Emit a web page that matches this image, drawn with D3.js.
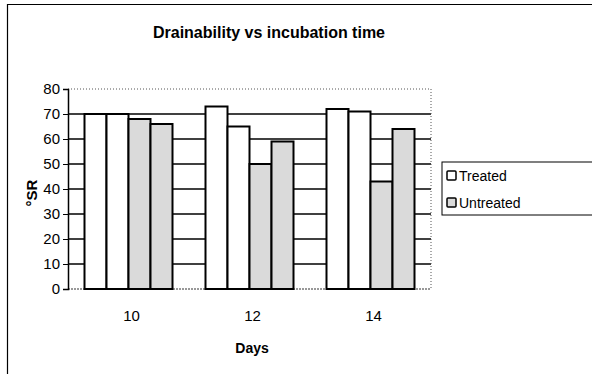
<!DOCTYPE html>
<html><head><meta charset="utf-8">
<script src="https://cdn.jsdelivr.net/npm/d3@7"></script>
<style>body{margin:0;background:#fff}svg{display:block;font-family:"Liberation Sans",Arial,sans-serif}</style>
</head><body><svg id="c" width="592" height="374"></svg>
<script>
const categories = ["10", "12", "14"];
const seriesNames = ["Treated A", "Treated B", "Untreated A", "Untreated B"];
const treatedA = [70, 73, 72];
const treatedB = [70, 65, 71];
const untreatedA = [68, 50, 43];
const untreatedB = [66, 59, 64];
const yTicks = [0, 10, 20, 30, 40, 50, 60, 70, 80];
const legendLabels = ["Treated", "Untreated"];

const series = [treatedA, treatedB, untreatedA, untreatedB];
const fills = ["#ffffff", "#ffffff", "#dadada", "#dadada"];

const svg = d3.select("#c");
const m = {l: 68, r: 431, t: 89, b: 289};

// frame
svg.append("line").attr("x1",7).attr("x2",592).attr("y1",4.5).attr("y2",4.5).attr("stroke","#000").attr("stroke-width",1);
svg.append("line").attr("x1",7.5).attr("x2",7.5).attr("y1",4).attr("y2",374).attr("stroke","#000").attr("stroke-width",1.2);

const x0 = d3.scaleBand().domain(categories).range([m.l, m.r]).paddingInner(0).paddingOuter(0);
const x1 = d3.scaleBand().domain(seriesNames).range([0, x0.bandwidth()]).paddingOuter(0.75).paddingInner(0);
const y = d3.scaleLinear().domain([0, 80]).range([m.b, m.t]);

// gridlines
svg.append("g").selectAll("line").data(yTicks.filter(v=>v>0 && v<80)).join("line")
  .attr("x1", m.l).attr("x2", m.r).attr("y1", d=>y(d)).attr("y2", d=>y(d))
  .attr("stroke","#000").attr("stroke-width",1.3);
// plot border dotted top/right/bottom
svg.append("path").attr("d",`M${m.l},${y(80)}H${m.r}V${y(0)}`).attr("fill","none")
  .attr("stroke","#555").attr("stroke-width",1).attr("stroke-dasharray","1,2");
svg.append("line").attr("x1",m.l).attr("x2",m.r).attr("y1",y(0)).attr("y2",y(0)).attr("stroke","#333").attr("stroke-dasharray","2,1");

// bars
const g = svg.append("g");
categories.forEach((c, ci) => {
  series.forEach((s, si) => {
    g.append("rect")
      .attr("x", x0(c) + x1(seriesNames[si]))
      .attr("y", y(s[ci]))
      .attr("width", x1.bandwidth())
      .attr("height", y(0) - y(s[ci]))
      .attr("fill", fills[si]).attr("stroke","#000").attr("stroke-width",2);
  });
});

// y axis
const ya = d3.axisLeft(y).tickValues(yTicks).tickSize(5).tickPadding(3).tickFormat(d3.format("d"));
const yg = svg.append("g").attr("transform",`translate(${m.l},0)`).call(ya);
yg.select(".domain").attr("stroke","#000").attr("stroke-width",1.5);
yg.selectAll(".tick line").attr("stroke","#000");
yg.selectAll("text").attr("font-size",15).attr("fill","#000").attr("font-family","Liberation Sans, Arial, sans-serif");

// x labels
const xa = d3.axisBottom(x0).tickSize(0).tickPadding(21);
const xg = svg.append("g").attr("transform",`translate(3,${y(0)})`).call(xa);
xg.select(".domain").remove();
xg.selectAll("text").attr("font-size",15).attr("fill","#000").attr("font-family","Liberation Sans, Arial, sans-serif");

// titles
svg.append("text").attr("x",269).attr("y",38).attr("text-anchor","middle").attr("font-size",16).attr("font-weight","bold").text("Drainability vs incubation time");
svg.append("text").attr("x",252).attr("y",353).attr("text-anchor","middle").attr("font-size",14).attr("font-weight","bold").text("Days");
svg.append("text").attr("transform","translate(37,193) rotate(-90)").attr("text-anchor","middle").attr("font-size",15).attr("font-weight","bold").text("°SR");

// legend
svg.append("rect").attr("x",442).attr("y",162).attr("width",160).attr("height",53).attr("fill","#fff").attr("stroke","#000").attr("stroke-width",1);
const lg = svg.append("g");
legendLabels.forEach((l,i)=>{
  lg.append("rect").attr("x",447).attr("y",171+i*27).attr("width",9).attr("height",9)
    .attr("fill", i===0?"#fff":"#dadada").attr("stroke","#000").attr("stroke-width",1.5).attr("rx",1);
  lg.append("text").attr("x",459).attr("y",181+i*27).attr("font-size",14).text(l);
});
</script></body></html>
